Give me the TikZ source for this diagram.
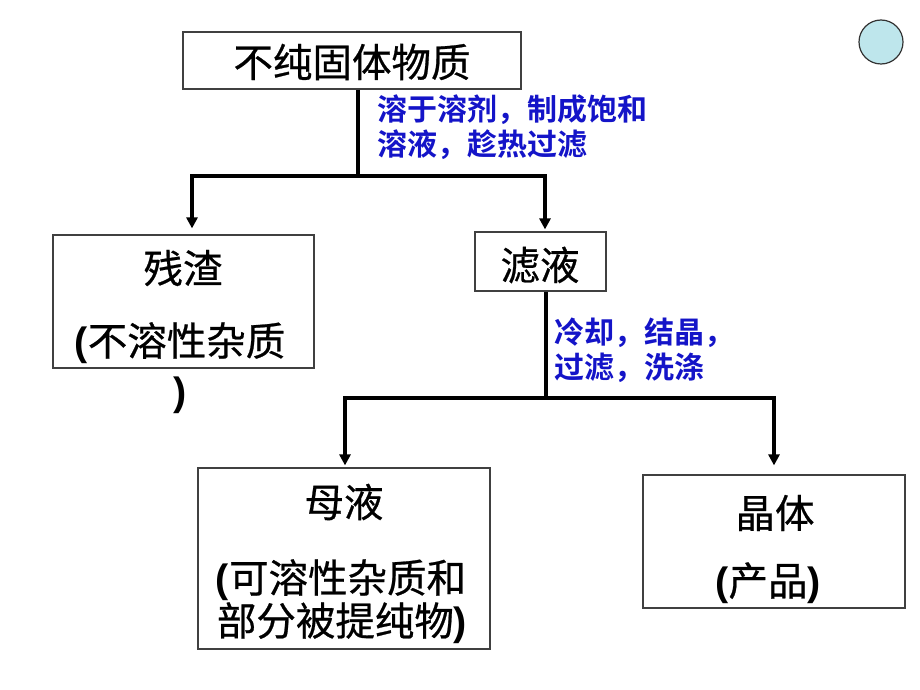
\documentclass[tikz,border=0pt]{standalone}
\usepackage{fontspec}
\setmainfont{Liberation Sans}
\newfontfamily\cjk[FakeBold=0.6]{Noto Sans CJK SC}
\newfontfamily\cjkb{Noto Sans CJK SC Bold}
\usetikzlibrary{arrows.meta}
\definecolor{notecol}{RGB}{20,20,200}
\definecolor{dotfill}{RGB}{190,230,236}
\newcommand{\pl}{{\rmfamily\bfseries(}}
\newcommand{\pr}{{\rmfamily\bfseries)}}
\begin{document}
\begin{tikzpicture}[x=1pt,y=-1pt,
  box/.style={draw=black!75, line width=1.2pt, inner sep=0pt, rectangle},
  conn/.style={line width=3.2pt, black},
  arr/.style={conn, -{Triangle[width=11pt,length=11pt]}},
  big/.style={font=\cjk\fontsize{39.5}{46}\selectfont, inner sep=0pt},
  note/.style={font=\cjkb\fontsize{30}{35}\selectfont, text=notecol, align=left, anchor=west, inner sep=0pt}]
\useasboundingbox (0,0) rectangle (920,690);
\fill[white] (0,0) rectangle (920,690);

% decoration circle
\node[circle, draw=black!80, line width=1.2pt, fill=dotfill, minimum size=44pt, inner sep=0pt] (deco) at (881,42) {};

% boxes
\node[box, minimum width=338pt, minimum height=57pt] (top) at (352,60.5) {};
\node[box, minimum width=261pt, minimum height=133pt] (resid) at (183.5,301.5) {};
\node[box, minimum width=131pt, minimum height=59pt] (filt) at (540.5,261.5) {};
\node[box, minimum width=292pt, minimum height=181pt] (mother) at (344,558.5) {};
\node[box, minimum width=262pt, minimum height=133pt] (cryst) at (774,541.5) {};

% texts
\node[big] (t1) at (352,62) {不纯固体物质};
\node[big] (t2) at (183,268) {残渣};
\node[big] (t3) at (180,343) {\pl 不溶性杂质};
\node[big] (t3b) at (180,395) {\pr};
\node[big] (t4) at (540,265) {滤液};
\node[big] (t5) at (344,502) {母液};
\node[big] (t6) at (341,580) {\pl 可溶性杂质和};
\node[big] (t6b) at (342,623) {部分被提纯物\pr};
\node[big] (t7) at (775,513) {晶体};
\node[big] (t8) at (768,583) {\pl 产品\pr};

\node[note] (n1) at (377,127.5) {溶于溶剂，制成饱和\\溶液，趁热过滤};
\node[note] (n2) at (554,350) {冷却，结晶，\\过滤，洗涤};

% connectors
\coordinate (j1) at (358,176);
\coordinate (l1) at (192,176);
\coordinate (r1) at (545,176);
\coordinate (j2) at (546,398);
\coordinate (l2) at (345,398);
\coordinate (r2) at (774,398);

\draw[conn] (top.south -| j1) -- (j1);
\draw[conn, line cap=rect] (l1) -- (r1);
\draw[arr, shorten >=6pt] (l1) -- (resid.north -| l1);
\draw[arr, shorten >=2pt] (r1) -- (filt.north -| r1);
\draw[conn] (filt.south -| j2) -- (j2);
\draw[conn, line cap=rect] (l2) -- (r2);
\draw[arr, shorten >=2pt] (l2) -- (mother.north -| l2);
\draw[arr, shorten >=9pt] (r2) -- (cryst.north -| r2);
\end{tikzpicture}
\end{document}
